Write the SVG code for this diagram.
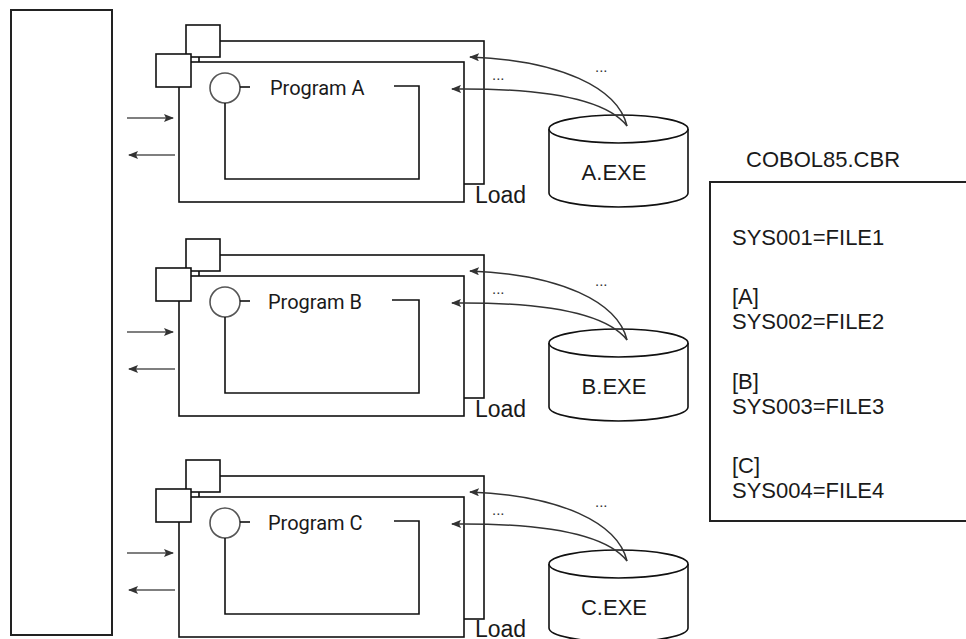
<svg xmlns="http://www.w3.org/2000/svg" width="966" height="639" viewBox="0 0 966 639">
<style>
.box{fill:#fff;stroke:#111;stroke-width:1.6}
.heavy{fill:#fff;stroke:#222;stroke-width:2}
.ln{fill:none;stroke:#111;stroke-width:1.6}
.circ{fill:#fff;stroke:#555;stroke-width:1.6}
.txt{font-family:"Liberation Sans",Arial,sans-serif;font-size:22px;fill:#1a1a1a}
.loadt{font-family:"Liberation Sans",Arial,sans-serif;font-size:23px;fill:#1a1a1a}
.prog{font-family:Roboto,"Liberation Sans",sans-serif;font-size:20px;fill:#1a1a1a}
.dots{font-family:"Liberation Sans",Arial,sans-serif;font-size:15px;fill:#333}
.arr{fill:none;stroke:#555;stroke-width:1.6;marker-end:url(#ah)}
.load{fill:none;stroke:#333;stroke-width:1.5;marker-end:url(#ah)}
</style>
<defs>
<marker id="ah" markerWidth="10" markerHeight="8" refX="9" refY="4" orient="auto" markerUnits="userSpaceOnUse">
<path d="M0,0 L10,4 L0,8 L2,4 Z" fill="#333"/>
</marker>
</defs>

<g id="left-box"><rect class="heavy" x="11" y="10" width="101" height="625"/></g>

<g id="prog-a">
<rect class="box" x="199" y="41" width="285" height="143"/>
<rect class="box" x="186" y="25" width="34" height="32"/>
<rect class="box" x="179" y="62" width="285" height="140"/>
<rect class="box" x="156" y="54" width="35" height="33"/>
<circle class="circ" cx="225" cy="88" r="15"/>
<line class="ln" x1="240" y1="87" x2="250" y2="87" stroke="#555"/>
<polyline class="ln" points="394,86 419,86 419,179 225,179 225,103"/>
<text class="prog" x="270" y="95">Program A</text>
<text class="loadt" x="475" y="203">Load</text>
</g>

<g id="prog-b" transform="translate(0,214)">
<rect class="box" x="199" y="41" width="285" height="143"/>
<rect class="box" x="186" y="25" width="34" height="32"/>
<rect class="box" x="179" y="62" width="285" height="140"/>
<rect class="box" x="156" y="54" width="35" height="33"/>
<circle class="circ" cx="225" cy="88" r="15"/>
<line class="ln" x1="240" y1="87" x2="250" y2="87" stroke="#555"/>
<polyline class="ln" points="392,86 419,86 419,179 225,179 225,103"/>
<text class="prog" x="268" y="95">Program B</text>
<text class="loadt" x="475" y="203">Load</text>
</g>

<g id="prog-c" transform="translate(0,435)">
<rect class="box" x="199" y="41" width="285" height="143"/>
<rect class="box" x="186" y="25" width="34" height="32"/>
<rect class="box" x="179" y="62" width="285" height="140"/>
<rect class="box" x="156" y="54" width="35" height="33"/>
<circle class="circ" cx="225" cy="88" r="15"/>
<line class="ln" x1="240" y1="87" x2="250" y2="87" stroke="#555"/>
<polyline class="ln" points="394,86 419,86 419,179 225,179 225,103"/>
<text class="prog" x="268" y="95">Program C</text>
<text class="loadt" x="475" y="202">Load</text>
</g>

<g id="exe-a">
<path class="box" d="M549,129 V193 A69.5,14 0 0 0 688,193 V129"/>
<ellipse class="box" cx="618.5" cy="129" rx="69.5" ry="14"/>
<text class="txt" x="614" y="180" text-anchor="middle">A.EXE</text>
</g>
<g id="exe-b" transform="translate(0,214)">
<path class="box" d="M549,129 V193 A69.5,14 0 0 0 688,193 V129"/>
<ellipse class="box" cx="618.5" cy="129" rx="69.5" ry="14"/>
<text class="txt" x="614" y="180" text-anchor="middle">B.EXE</text>
</g>
<g id="exe-c" transform="translate(0,435)">
<path class="box" d="M549,129 V193 A69.5,14 0 0 0 688,193 V129"/>
<ellipse class="box" cx="618.5" cy="129" rx="69.5" ry="14"/>
<text class="txt" x="614" y="180" text-anchor="middle">C.EXE</text>
</g>

<g id="cbr">
<text class="txt" x="746" y="167">COBOL85.CBR</text>
<rect class="heavy" x="710" y="182" width="270" height="339"/>
<text class="txt" x="732" y="245">SYS001=FILE1</text>
<text class="txt" x="732" y="304">[A]</text>
<text class="txt" x="732" y="329">SYS002=FILE2</text>
<text class="txt" x="732" y="389">[B]</text>
<text class="txt" x="732" y="414">SYS003=FILE3</text>
<text class="txt" x="732" y="473">[C]</text>
<text class="txt" x="732" y="498">SYS004=FILE4</text>
</g>

<g id="connectors">
<g>
<line class="arr" x1="127" y1="118" x2="173" y2="118"/>
<line class="arr" x1="175" y1="155" x2="129" y2="155"/>
<path class="load" d="M627,126 C618,88 560,60 470,57"/>
<path class="load" d="M627,126 C605,98 540,88 452,89"/>
<text class="dots" x="595" y="72">...</text>
<text class="dots" x="492" y="80">...</text>
</g>
<g transform="translate(0,214)">
<line class="arr" x1="127" y1="118" x2="173" y2="118"/>
<line class="arr" x1="175" y1="155" x2="129" y2="155"/>
<path class="load" d="M627,126 C618,88 560,60 470,57"/>
<path class="load" d="M627,126 C605,98 540,88 452,89"/>
<text class="dots" x="595" y="72">...</text>
<text class="dots" x="492" y="80">...</text>
</g>
<g transform="translate(0,435)">
<line class="arr" x1="127" y1="118" x2="173" y2="118"/>
<line class="arr" x1="175" y1="155" x2="129" y2="155"/>
<path class="load" d="M627,126 C618,88 560,60 470,57"/>
<path class="load" d="M627,126 C605,98 540,88 452,89"/>
<text class="dots" x="595" y="72">...</text>
<text class="dots" x="492" y="80">...</text>
</g>
</g>
</svg>
